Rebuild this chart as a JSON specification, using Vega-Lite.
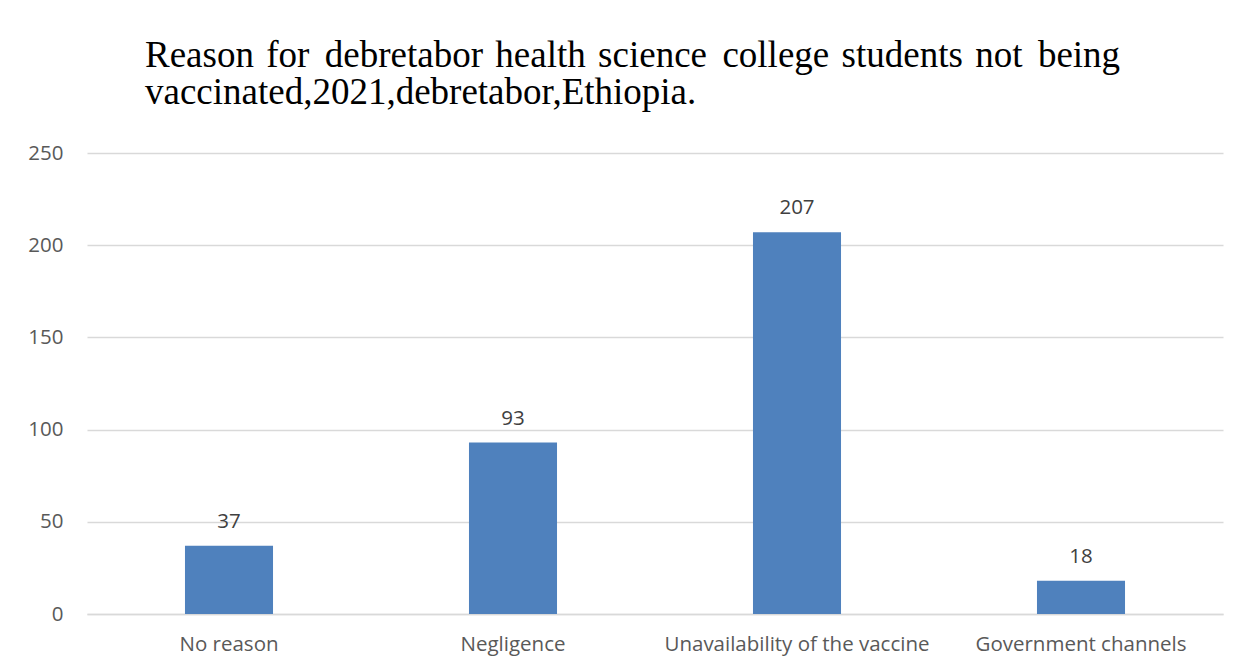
{
  "$schema": "https://vega.github.io/schema/vega-lite/v6.json",
  "autosize": {"type": "none"},
  "width": 1136,
  "height": 461,
  "padding": {"left": 87, "top": 153, "right": 17, "bottom": 57},
  "background": "white",
  "title": {
    "text": ["Reason\u200a for\u200a\u200a debretabor\u200a health\u200a science\u200a\u200a college\u200a students\u200a not\u200a\u200a being", "vaccinated,2021,debretabor,Ethiopia."],
    "anchor": "start",
    "frame": "group",
    "dx": 58,
    "offset": 31,
    "font": "Liberation Serif",
    "fontSize": 37,
    "fontWeight": "normal",
    "color": "#000000",
    "lineHeight": 37
  },
  "data": {
    "values": [
      {"reason": "No reason", "count": 37},
      {"reason": "Negligence", "count": 93},
      {"reason": "Unavailability of the vaccine", "count": 207},
      {"reason": "Government channels", "count": 18}
    ]
  },
  "encoding": {
    "x": {
      "field": "reason",
      "type": "nominal",
      "sort": null,
      "scale": {"paddingInner": 0.69, "paddingOuter": 0.345},
      "axis": {
        "title": null,
        "labelAngle": 0,
        "labelFont": "Open Sans",
        "labelFontSize": 20.5,
        "labelColor": "#595959",
        "labelPadding": 20,
        "labelLimit": 0,
        "ticks": false,
        "domain": true,
        "domainColor": "#D9D9D9",
        "domainWidth": 1.3,
        "grid": false
      }
    },
    "y": {
      "field": "count",
      "type": "quantitative",
      "scale": {"domain": [0, 250], "nice": false},
      "axis": {
        "title": null,
        "values": [0, 50, 100, 150, 200, 250],
        "labelFont": "Open Sans",
        "labelFontSize": 20.5,
        "labelColor": "#595959",
        "labelPadding": 24,
        "ticks": false,
        "domain": false,
        "grid": true,
        "gridColor": "#D9D9D9",
        "gridWidth": 1.3
      }
    }
  },
  "layer": [
    {"mark": {"type": "bar", "color": "#4F81BD"}},
    {
      "mark": {
        "type": "text",
        "baseline": "alphabetic",
        "dy": -18,
        "font": "Open Sans",
        "fontSize": 20.5,
        "color": "#404040"
      },
      "encoding": {"text": {"field": "count", "type": "quantitative"}}
    }
  ],
  "config": {"view": {"stroke": null}}
}
